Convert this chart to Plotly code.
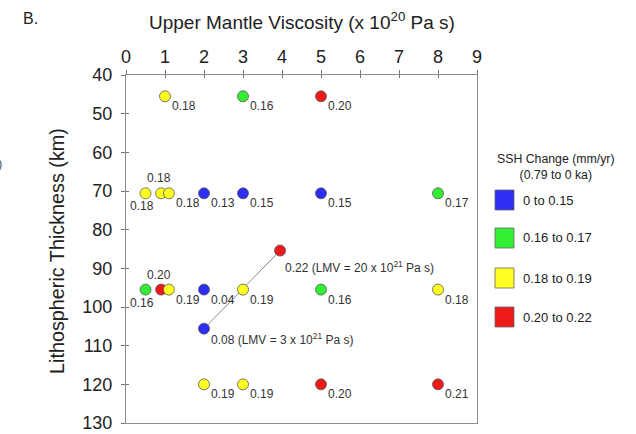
import plotly.graph_objects as go

# ---------------- data ----------------
viscosity = [1, 3, 5,
             0.5, 0.9, 1.1, 2, 3, 5, 8,
             0.5, 0.9, 1.1, 2, 3, 5, 8,
             2, 3, 5, 8,
             2, 3.95]
thickness = [45.5, 45.5, 45.5,
             70.6, 70.6, 70.6, 70.6, 70.6, 70.6, 70.6,
             95.5, 95.5, 95.5, 95.5, 95.5, 95.5, 95.5,
             120, 120, 120, 120,
             105.6, 85.4]
ssh_change = [0.18, 0.16, 0.20,
              0.18, 0.18, 0.18, 0.13, 0.15, 0.15, 0.17,
              0.16, 0.20, 0.19, 0.04, 0.19, 0.16, 0.18,
              0.19, 0.19, 0.20, 0.21,
              0.08, 0.22]
label_suffix = [""] * 21 + [" (LMV = 3 x 10<sup>21</sup> Pa s)", " (LMV = 20 x 10<sup>21</sup> Pa s)"]
lmv_pair = [21, 22]  # indices of points joined by a line

legend_labels = ["0 to 0.15", "0.16 to 0.17", "0.18 to 0.19", "0.20 to 0.22"]
legend_upper = [0.15, 0.17, 0.19, 0.22]
legend_colors = ["#2e2ef2", "#33ee33", "#ffff22", "#ee1a1a"]

x_ticks = list(range(0, 10))
y_ticks = list(range(40, 131, 10))

x_title = "Upper Mantle Viscosity (x 10<sup>20</sup> Pa s)"
y_title = "Lithospheric Thickness (km)"

# label placement (style): br = below-right, t = above, bl = below-left
label_pos = ["br"] * 23
label_pos[4] = "t"
label_pos[3] = "bl"
label_pos[11] = "t"
label_pos[10] = "bl"
label_pos[22] = "lmv"

FONT = "Liberation Sans, Arial, sans-serif"


def color_for(v):
    for up, c in zip(legend_upper, legend_colors):
        if v <= up + 1e-9:
            return c
    return legend_colors[-1]


colors = [color_for(v) for v in ssh_change]

fig = go.Figure()

# connecting line
fig.add_trace(go.Scatter(
    x=[viscosity[i] for i in lmv_pair], y=[thickness[i] for i in lmv_pair],
    mode="lines", line=dict(color="#8a8a8a", width=1), hoverinfo="skip", showlegend=False))

fig.add_trace(go.Scatter(
    x=viscosity, y=thickness, mode="markers",
    marker=dict(size=11, color=colors, line=dict(color="#555555", width=0.8)),
    showlegend=False))

# dummy trace for overlay axes (inside tick halves)
fig.add_trace(go.Scatter(x=[None], y=[None], xaxis="x2", yaxis="y2", showlegend=False))

offsets = {
    "br": dict(xanchor="left", yanchor="middle", xshift=5, yshift=-10),
    "t": dict(xanchor="center", yanchor="middle", xshift=-2, yshift=15),
    "bl": dict(xanchor="center", yanchor="middle", xshift=-4, yshift=-13),
    "lmv": dict(xanchor="left", yanchor="middle", xshift=3, yshift=-16),
}
for i, (x, y, v) in enumerate(zip(viscosity, thickness, ssh_change)):
    o = offsets[label_pos[i]]
    fig.add_annotation(x=x, y=y, xref="x", yref="y", text=f"{v:.2f}{label_suffix[i]}",
                       showarrow=False, font=dict(family=FONT, size=12, color="#333333"), **o)

# plot area in pixels
L, R, T, B = 126, 477, 75, 423
W, H = 636, 434


def px(xp):
    return (xp - L) / (R - L)


def py(yp):
    return (B - yp) / (B - T)


# axis titles
fig.add_annotation(x=px(301.5), y=py(21), xref="paper", yref="paper", text=x_title,
                   showarrow=False, xanchor="center", yanchor="middle",
                   font=dict(family=FONT, size=19, color="#222222"))
fig.add_annotation(x=px(57), y=py(251), xref="paper", yref="paper", text=y_title,
                   showarrow=False, xanchor="center", yanchor="middle", textangle=-90,
                   font=dict(family=FONT, size=19.8, color="#222222"))

# legend
fig.add_annotation(x=px(556), y=py(167), xref="paper", yref="paper",
                   text="SSH Change (mm/yr)<br>(0.79 to 0 ka)", showarrow=False,
                   xanchor="center", yanchor="middle",
                   font=dict(family=FONT, size=12.3, color="#222222"))
box_tops = [190, 228, 268, 307]
for top, lab, col in zip(box_tops, legend_labels, legend_colors):
    fig.add_shape(type="rect", xref="paper", yref="paper",
                  x0=px(495), x1=px(514), y0=py(top), y1=py(top + 20),
                  fillcolor=col, line=dict(color="#666666", width=0.8))
    fig.add_annotation(x=px(521), y=py(top + 10), xref="paper", yref="paper", text=lab,
                       showarrow=False, xanchor="left", yanchor="middle",
                       font=dict(family=FONT, size=13, color="#222222"))

fig.add_annotation(x=px(21), y=py(18), xref="paper", yref="paper", text="B.", showarrow=False,
                   xanchor="left", yanchor="middle", font=dict(family=FONT, size=16, color="#222222"))
fig.add_annotation(x=px(4), y=py(163), xref="paper", yref="paper", text=")", showarrow=False,
                   xanchor="right", yanchor="middle", font=dict(family=FONT, size=13, color="#555555"))

fig.update_layout(
    width=W, height=H,
    margin=dict(l=L, r=W - R, t=T, b=H - B, autoexpand=False),
    paper_bgcolor="white", plot_bgcolor="white",
    font=dict(family=FONT, color="#222222"),
    xaxis=dict(side="top", range=[0, 9], tickvals=x_ticks, ticks="outside", ticklen=4,
               tickcolor="#777777", showline=True, linecolor="#8c8c8c", linewidth=1, mirror=True,
               showgrid=False, zeroline=False, tickfont=dict(size=18, color="#222222"),
               automargin=False),
    yaxis=dict(range=[130, 40], tickvals=y_ticks, ticks="outside", ticklen=4,
               tickcolor="#777777", showline=True, linecolor="#8c8c8c", linewidth=1, mirror=True,
               showgrid=False, zeroline=False, tickfont=dict(size=18, color="#222222"),
               automargin=False, ticklabelstandoff=5),
    xaxis2=dict(overlaying="x", side="top", range=[0, 9], tickvals=x_ticks, ticks="inside",
                ticklen=3, tickcolor="#777777", showticklabels=False, showline=False,
                showgrid=False, zeroline=False, anchor="y2"),
    yaxis2=dict(overlaying="y", side="left", range=[130, 40], tickvals=y_ticks, ticks="inside",
                ticklen=3, tickcolor="#777777", showticklabels=False, showline=False,
                showgrid=False, zeroline=False, anchor="x2"),
)

fig.write_html("out.html")
